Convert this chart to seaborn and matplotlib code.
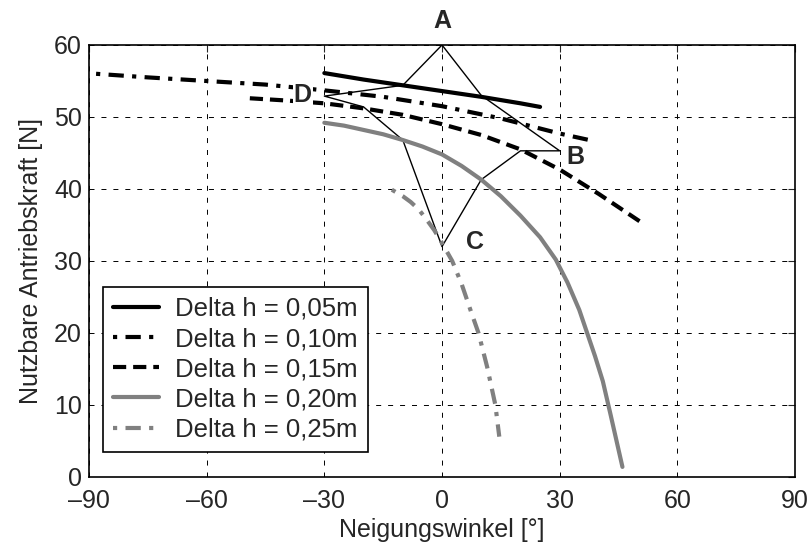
import matplotlib
matplotlib.use("Agg")
import matplotlib.pyplot as plt
import pandas as pd
import seaborn as sns

sns.set_style("white")
plt.rcParams['font.family'] = ['Liberation Sans', 'DejaVu Sans']
plt.rcParams['lines.scale_dashes'] = False

# curves (angle in deg, force in N)
x_005 = [-30, -20, -10, 0, 10, 20, 25]
y_005 = [56.1, 55.2, 54.4, 53.6, 52.8, 51.9, 51.4]

x_010 = [-88.2, -75, -60, -45, -30, -15, 0, 15, 30, 39.2]
y_010 = [56.0, 55.5, 55.0, 54.5, 53.7, 52.8, 51.5, 49.8, 47.7, 46.6]

x_015 = [-49, -40, -30, -20, -10, 0, 10, 20, 30, 40, 50.7]
y_015 = [52.6, 52.3, 51.9, 51.2, 50.3, 49.0, 47.5, 45.5, 42.7, 39.3, 35.4]

x_020 = [-30, -25, -20, -15, -10, -5, 0, 5, 10, 15, 20, 25, 29, 32, 35, 37,
         39, 41, 43, 44.5, 46]
y_020 = [49.2, 48.8, 48.2, 47.6, 46.8, 45.9, 44.8, 43.2, 41.3, 39.0, 36.3,
         33.3, 30.2, 27.0, 23.2, 20.0, 16.8, 13.3, 8.6, 5.0, 1.4]

x_025 = [-12.8, -10, -8, -6, -4, -2, 0, 2.6, 5, 7.5, 9.3, 11.5, 13.6, 14.6]
y_025 = [39.9, 39.0, 38.2, 37.2, 35.8, 34.3, 32.5, 30.0, 26.8, 22.8, 20.0,
         15.3, 10.0, 5.6]

labels = ["Delta h = 0,05m", "Delta h = 0,10m", "Delta h = 0,15m",
          "Delta h = 0,20m", "Delta h = 0,25m"]

# star outline A-B-C-D
star_x = [0, 10, 30, 20, 10, 0, -10, -20, -30, -10, 0]
star_y = [60, 53.0, 45.3, 45.3, 41.3, 32.0, 46.8, 51.4, 52.9, 54.4, 60]
marks = ["A", "B", "C", "D"]
mark_x = [0.2, 34, 8.5, -35.5]
mark_y = [63.4, 44.4, 32.6, 53.1]

fig = plt.figure(figsize=(8.1, 5.46), dpi=100)
ax = fig.add_axes([0.1099, 0.1264, 0.8716, 0.7912])

sns.lineplot(x=star_x, y=star_y, sort=False, estimator=None, color="black",
             lw=1.0, ax=ax, legend=False)

dashdot = (17, (11, 6, 3, 6))
series = [(x_005, y_005, "black", "-"),
          (x_010, y_010, "black", dashdot),
          (x_015, y_015, "black", (0, (9.5, 5))),
          (x_020, y_020, "#808080", "-"),
          (x_025, y_025, "#808080", dashdot)]
for (xs, ys, c, ls), lab in zip(series, labels):
    df = pd.DataFrame({"x": xs, "y": ys})
    sns.lineplot(data=df, x="x", y="y", sort=False, estimator=None, color=c,
                 linestyle=ls, lw=3.0, label=lab, ax=ax)

for m, mx, my in zip(marks, mark_x, mark_y):
    ax.text(mx, my, m, fontsize=18, fontweight="bold", ha="center", va="center",
            clip_on=False, zorder=5,
            bbox=dict(facecolor="white", edgecolor="none", pad=0.5) if m == "D" else None)

ax.set_xlim(-90, 90)
ax.set_ylim(0, 60)
ax.set_xticks(range(-90, 91, 30))
ax.set_xticklabels(["\u201390", "\u201360", "\u201330", "0", "30", "60", "90"])
ax.set_yticks(range(0, 61, 10))
ax.grid(True, color="black", linestyle=(0, (3.6, 5)), lw=0.7)
ax.tick_params(direction="in", top=True, right=True, length=5, width=0.8,
               labelsize=18)
ax.tick_params(axis="x", pad=9)
ax.tick_params(axis="y", pad=5)
for s in ax.spines.values():
    s.set_color("black")
    s.set_linewidth(1.2)
ax.set_xlabel("Neigungswinkel [°]", fontsize=18, labelpad=3)
ax.set_ylabel("Nutzbare Antriebskraft [N]", fontsize=18, labelpad=8)

leg = ax.legend(loc="lower left", bbox_to_anchor=(0.02, 0.058), borderaxespad=0,
                fontsize=18.5, frameon=True, fancybox=False, handlelength=1.76,
                handletextpad=0.64, labelspacing=0.24, borderpad=0.4)
leg.get_frame().set_edgecolor("black")
leg.get_frame().set_linewidth(1.2)
leg.get_frame().set_alpha(1)

fig.savefig("out.png", dpi=100)
